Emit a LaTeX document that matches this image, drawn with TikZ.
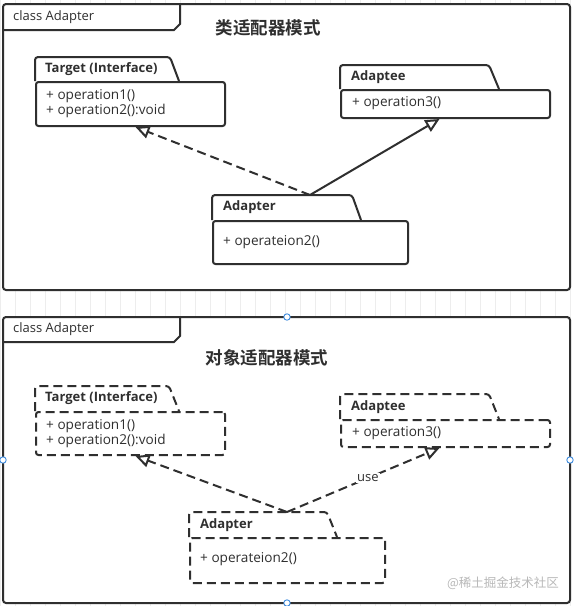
\documentclass[tikz,border=0pt]{standalone}
\usepackage{fontspec}
\setmainfont{Open Sans}
\newfontfamily\cjk{Noto Sans CJK SC}
\newfontfamily\cjkbold{Noto Sans CJK SC Bold}
\usetikzlibrary{arrows.meta}

\definecolor{linec}{HTML}{2F2F2F}
\definecolor{handlec}{HTML}{3D8BDE}

\tikzset{
	frame/.style={draw=linec, line width=2pt, rounded corners=3pt},
	classbody/.style={draw=linec, line width=2pt, rounded corners=2.5pt, anchor=north west, inner sep=0pt},
	dashbody/.style={classbody, dash pattern=on 9pt off 5pt},
	tab/.style={draw=linec, line width=2pt, rounded corners=3pt},
	dashtab/.style={tab, dash pattern=on 9pt off 5pt},
	head/.style={font=\bfseries\fontsize{13}{15}\selectfont, text=linec, anchor=west, inner sep=0pt},
	ops/.style={font=\fontsize{13.6}{15.5}\selectfont, text=linec, anchor=west, align=left, inner sep=0pt},
	realize/.style={draw=linec, line width=2pt, dash pattern=on 9pt off 5pt, -{Triangle[open, length=14pt, width=13pt]}},
	extend/.style={draw=linec, line width=2pt, -{Triangle[open, length=14pt, width=13pt]}},
	handle/.style={draw=handlec, fill=white, line width=0.9pt}
}

\begin{document}
\begin{tikzpicture}[x=1pt, y=-1pt]
	\useasboundingbox (0,0) rectangle (574,606);
	\fill[white] (0,0) rectangle (574,606);
	\draw[black!7, step=15] (0,0) grid (574,606);

	% class adapter
	\draw[frame, fill=white] (3,4) rectangle (570,290);
	\draw[frame, rounded corners=0pt] (3,30) -- (174,30) -- (180,24) -- (180,4);
	\node[anchor=west, inner sep=0pt, text=linec, font=\fontsize{13}{15}\selectfont] (frm1) at (13,17) {class Adapter};
	\node[text=linec, inner sep=0pt, font=\cjkbold\fontsize{17.5}{19}\selectfont] (title1) at (268,28) {类适配器模式};

	\node[classbody, minimum width=189, minimum height=44] (tgt1) at (35,81) {};
	\draw[tab] (35,81) -- (35,57) -- (170,57) -- (179,81);
	\node[head] (tgt1h) at (45,69) {Target (Interface)};
	\node[ops] (tgt1o) at (46,103.5) {+ operation1()\\+ operation2():void};

	\node[classbody, minimum width=209, minimum height=28] (adt1) at (340,89) {};
	\draw[tab] (340,89) -- (340,65) -- (489,65) -- (499,89);
	\node[head] (adt1h) at (351,77) {Adaptee};
	\node[ops] (adt1o) at (352,103) {+ operation3()};

	\node[classbody, minimum width=195, minimum height=43] (adp1) at (212,220) {};
	\draw[tab] (212,220) -- (212,195) -- (352,195) -- (361,220);
	\node[head] (adp1h) at (223,207) {Adapter};
	\node[ops] (adp1o) at (223,242) {+ operateion2()};
	\coordinate (adp1top) at (310,195);

	\draw[realize] (adp1top) -- ([xshift=5]tgt1.south);
	\draw[extend] (adp1top) -- ([xshift=-6]adt1.south);

	% object adapter
	\draw[frame, fill=white] (3,317) rectangle (570,603);
	\draw[frame, rounded corners=0pt] (3,342) -- (174,342) -- (180,336) -- (180,317);
	\node[anchor=west, inner sep=0pt, text=linec, font=\fontsize{13}{15}\selectfont] (frm2) at (13,329) {class Adapter};
	\node[text=linec, inner sep=0pt, font=\cjkbold\fontsize{17.5}{19}\selectfont] (title2) at (267,358) {对象适配器模式};

	\node[dashbody, minimum width=189, minimum height=43] (tgt2) at (35,411) {};
	\draw[dashtab] (35,411) -- (35,386) -- (169,386) -- (179,411);
	\node[head] (tgt2h) at (45,398) {Target (Interface)};
	\node[ops] (tgt2o) at (46,433.5) {+ operation1()\\+ operation2():void};

	\node[dashbody, minimum width=209, minimum height=27] (adt2) at (340,419) {};
	\draw[dashtab] (340,419) -- (340,394) -- (489,394) -- (499,419);
	\node[head] (adt2h) at (351,407) {Adaptee};
	\node[ops] (adt2o) at (352,433) {+ operation3()};

	\node[dashbody, minimum width=195, minimum height=45] (adp2) at (189,537) {};
	\draw[dashtab] (189,537) -- (189,512) -- (327,512) -- (337,537);
	\node[head] (adp2h) at (200,525) {Adapter};
	\node[ops] (adp2o) at (200,559) {+ operateion2()};
	\coordinate (adp2top) at (287,512);

	\draw[realize] (adp2top) -- ([xshift=5]tgt2.south);
	\draw[realize] (adp2top) -- node[pos=0.53, fill=white, inner sep=1pt, text=linec, font=\fontsize{13}{15}\selectfont] (uselbl) {use} ([xshift=-6]adt2.south);

	\node[text=black!28, inner sep=0pt, font=\cjk\fontsize{12.5}{14}\selectfont] (mark) at (503,583) {@稀土掘金技术社区};

	% selection handles
	\foreach \hx/\hy in {287/317, 3/460, 570/460, 287/603}
		\draw[handle] (\hx,\hy) circle (3.2);
\end{tikzpicture}
\end{document}
